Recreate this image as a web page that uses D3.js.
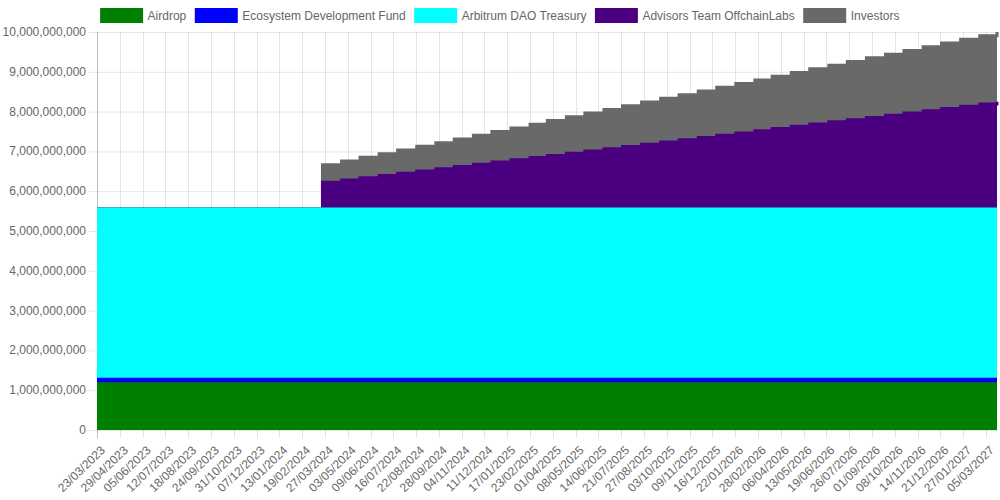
<!DOCTYPE html>
<html>
<head>
<meta charset="utf-8">
<script src="https://cdn.jsdelivr.net/npm/d3@7"></script>
<style>
  html, body { margin: 0; padding: 0; background: #fff; }
  svg { display: block; font-family: "Liberation Sans", Arial, Helvetica, sans-serif; }
</style>
</head>
<body>
<svg id="chart" width="1000" height="500"></svg>
<script>
// Unlock events (cumulative circulating supply per allocation, in millions)
const unlockDates = [
  '23/03/2023',
  '23/03/2024', '23/04/2024', '23/05/2024', '23/06/2024', '23/07/2024', '23/08/2024',
  '23/09/2024', '23/10/2024', '23/11/2024', '23/12/2024',
  '23/01/2025', '23/02/2025', '23/03/2025', '23/04/2025', '23/05/2025', '23/06/2025',
  '23/07/2025', '23/08/2025', '23/09/2025', '23/10/2025', '23/11/2025', '23/12/2025',
  '23/01/2026', '23/02/2026', '23/03/2026', '23/04/2026', '23/05/2026', '23/06/2026',
  '23/07/2026', '23/08/2026', '23/09/2026', '23/10/2026', '23/11/2026', '23/12/2026',
  '23/01/2027', '23/02/2027', '23/03/2027'
];
const airdrop = [
  1162, 1162, 1162, 1162, 1162, 1162, 1162, 1162, 1162, 1162, 1162, 1162, 1162,
  1162, 1162, 1162, 1162, 1162, 1162, 1162, 1162, 1162, 1162, 1162, 1162, 1162,
  1162, 1162, 1162, 1162, 1162, 1162, 1162, 1162, 1162, 1162, 1162, 1162
];
const ecosystem = [
  113, 113, 113, 113, 113, 113, 113, 113, 113, 113, 113, 113, 113,
  113, 113, 113, 113, 113, 113, 113, 113, 113, 113, 113, 113, 113,
  113, 113, 113, 113, 113, 113, 113, 113, 113, 113, 113, 113
];
const treasury = [
  4278, 4278, 4278, 4278, 4278, 4278, 4278, 4278, 4278, 4278, 4278, 4278, 4278,
  4278, 4278, 4278, 4278, 4278, 4278, 4278, 4278, 4278, 4278, 4278, 4278, 4278,
  4278, 4278, 4278, 4278, 4278, 4278, 4278, 4278, 4278, 4278, 4278, 4278
];
const advisorsTeam = [
  0, 674, 729, 786, 842, 898, 954, 1010, 1066, 1123, 1179, 1235, 1291,
  1347, 1403, 1459, 1515, 1572, 1628, 1684, 1740, 1796, 1852, 1908, 1964, 2021,
  2077, 2133, 2189, 2245, 2301, 2357, 2413, 2470, 2526, 2582, 2638, 2694
];
const investors = [
  0, 438, 475, 511, 548, 584, 621, 657, 694, 730, 767, 803, 840,
  877, 913, 950, 986, 1023, 1059, 1096, 1132, 1169, 1205, 1242, 1278, 1315,
  1351, 1388, 1424, 1461, 1497, 1534, 1570, 1607, 1643, 1680, 1717, 1753
];

const seriesNames  = ['Airdrop', 'Ecosystem Development Fund', 'Arbitrum DAO Treasury',
                      'Advisors Team OffchainLabs', 'Investors'];
const seriesColors = ['#008000', '#0000ff', '#00ffff', '#4b0082', '#696969'];

const xTickLabels = [
  '23/03/2023', '29/04/2023', '05/06/2023', '12/07/2023', '18/08/2023', '24/09/2023',
  '31/10/2023', '07/12/2023', '13/01/2024', '19/02/2024', '27/03/2024', '03/05/2024',
  '09/06/2024', '16/07/2024', '22/08/2024', '28/09/2024', '04/11/2024', '11/12/2024',
  '17/01/2025', '23/02/2025', '01/04/2025', '08/05/2025', '14/06/2025', '21/07/2025',
  '27/08/2025', '03/10/2025', '09/11/2025', '16/12/2025', '22/01/2026', '28/02/2026',
  '06/04/2026', '13/05/2026', '19/06/2026', '26/07/2026', '01/09/2026', '08/10/2026',
  '14/11/2026', '21/12/2026', '27/01/2027', '05/03/2027'
];
const yTicks = [0, 1000, 2000, 3000, 4000, 5000, 6000, 7000, 8000, 9000, 10000];

// ---------- layout ----------
const M = { left: 97, right: 997, top: 32, bottom: 430 };
const FONT = '"Liberation Sans", Arial, Helvetica, sans-serif';
const TXT = '#666';
const GRID = 'rgba(0,0,0,0.1)';

const parse = d3.timeParse('%d/%m/%Y');
const svg = d3.select('#chart');

// table built from the arrays
const keys = ['airdrop', 'ecosystem', 'treasury', 'team', 'investors'];
const rows = unlockDates.map((d, i) => ({
  date: parse(d),
  airdrop: airdrop[i], ecosystem: ecosystem[i], treasury: treasury[i],
  team: advisorsTeam[i], investors: investors[i]
}));
const stacked = d3.stack().keys(keys)(rows);

const x = d3.scaleTime()
  .domain([parse('23/03/2023'), parse('23/03/2027')])
  .range([M.left, M.right]);
const y = d3.scaleLinear().domain([0, 10000]).range([M.bottom, M.top]);

// ---------- grid ----------
const grid = svg.append('g');
grid.selectAll('line.h').data(yTicks).enter().append('line')
  .attr('x1', M.left - 8).attr('x2', M.right)
  .attr('y1', d => y(d) + 0.5).attr('y2', d => y(d) + 0.5)
  .attr('stroke', GRID).attr('stroke-width', 1);
grid.selectAll('line.v').data(xTickLabels).enter().append('line')
  .attr('x1', d => Math.round(x(parse(d))) + 0.5).attr('x2', d => Math.round(x(parse(d))) + 0.5)
  .attr('y1', M.top).attr('y2', M.bottom + 8)
  .attr('stroke', (d, i) => i === 0 ? 'rgba(0,0,0,0.25)' : GRID).attr('stroke-width', 1);

// ---------- stacked step areas ----------
const area = d3.area()
  .x(d => x(d.data.date)).y0(d => y(d[0])).y1(d => y(d[1]))
  .curve(d3.curveStepAfter);
const topLine = d3.line()
  .x(d => x(d.data.date)).y(d => y(d[1]))
  .curve(d3.curveStepAfter);

const layers = svg.append('g');
// last series drawn first so the lower ones sit on top
stacked.slice().reverse().forEach(s => {
  const c = seriesColors[s.index];
  layers.append('path').attr('d', area(s)).attr('fill', c);
  layers.append('path').attr('d', topLine(s)).attr('fill', 'none')
    .attr('stroke', c).attr('stroke-width', 3);
});

// ---------- y axis labels ----------
const fmt = d3.format(',');
svg.append('g').selectAll('text').data(yTicks).enter().append('text')
  .attr('x', M.left - 11).attr('y', d => y(d) + 4)
  .attr('text-anchor', 'end')
  .attr('font-family', FONT).attr('font-size', 12).attr('fill', TXT)
  .text(d => fmt(d * 1e6));

// ---------- x axis labels ----------
svg.append('g').selectAll('text').data(xTickLabels).enter().append('text')
  .attr('transform', d => `translate(${x(parse(d)) + 6},${M.bottom + 18}) rotate(-44)`)
  .attr('text-anchor', 'end')
  .attr('dy', '0.35em')
  .attr('font-family', FONT).attr('font-size', 12).attr('fill', TXT)
  .text(d => d);

// ---------- legend ----------
const legend = svg.append('g');
let lx = 0;
seriesNames.forEach((name, i) => {
  const it = legend.append('g').attr('transform', `translate(${lx},0)`);
  it.append('rect')
    .attr('x', 0).attr('y', 9.5).attr('width', 40).attr('height', 12)
    .attr('fill', seriesColors[i]).attr('stroke', seriesColors[i]).attr('stroke-width', 3);
  const t = it.append('text')
    .attr('x', 46).attr('y', 20)
    .attr('font-family', FONT).attr('font-size', 12).attr('fill', TXT)
    .text(name);
  lx += 46 + t.node().getComputedTextLength() + 10;
});
const legendW = lx - 10;
legend.attr('transform', `translate(${500.5 - legendW / 2},0)`);
</script>
</body>
</html>
